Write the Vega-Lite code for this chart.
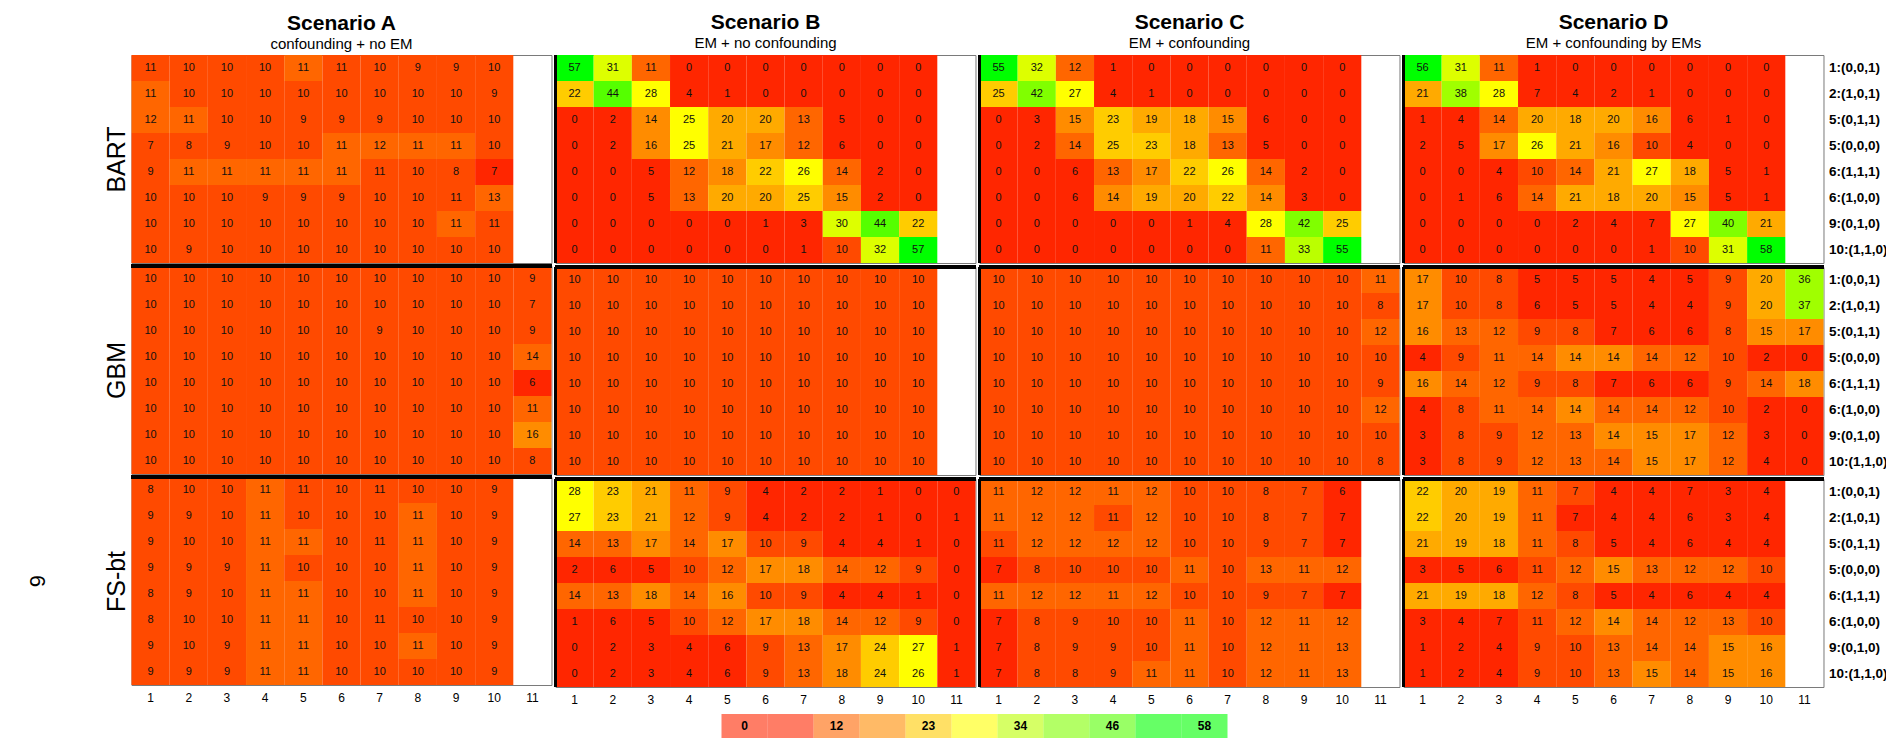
{
"$schema": "https://vega.github.io/schema/vega-lite/v6.json",
"background": "white",
"padding": {"left": 25, "top": 11, "right": 0, "bottom": 0},
"config": {"font": "Liberation Sans", "view": {"stroke": "#7a7a7a", "strokeWidth": 1}, "concat": {"spacing": 0},
  "axis": {"ticks": false, "domain": false, "labelColor": "black", "titleColor": "black"},
  "title": {"fontSize": 21, "fontWeight": "bold", "subtitleFontSize": 15, "subtitlePadding": 0, "offset": 3, "color": "black", "subtitleColor": "black", "anchor": "middle", "frame": "group"}},
"datasets": {
"cells": [
{"s":"A","m":"BART","r":1,"c":1,"v":10.6},{"s":"A","m":"BART","r":1,"c":2,"v":10},{"s":"A","m":"BART","r":1,"c":3,"v":10},{"s":"A","m":"BART","r":1,"c":4,"v":10},{"s":"A","m":"BART","r":1,"c":5,"v":11},{"s":"A","m":"BART","r":1,"c":6,"v":10.6},{"s":"A","m":"BART","r":1,"c":7,"v":10},{"s":"A","m":"BART","r":1,"c":8,"v":9},{"s":"A","m":"BART","r":1,"c":9,"v":9},{"s":"A","m":"BART","r":1,"c":10,"v":10},
{"s":"A","m":"BART","r":2,"c":1,"v":11},{"s":"A","m":"BART","r":2,"c":2,"v":10},{"s":"A","m":"BART","r":2,"c":3,"v":10},{"s":"A","m":"BART","r":2,"c":4,"v":10},{"s":"A","m":"BART","r":2,"c":5,"v":10},{"s":"A","m":"BART","r":2,"c":6,"v":10},{"s":"A","m":"BART","r":2,"c":7,"v":10},{"s":"A","m":"BART","r":2,"c":8,"v":10},{"s":"A","m":"BART","r":2,"c":9,"v":10},{"s":"A","m":"BART","r":2,"c":10,"v":9},
{"s":"A","m":"BART","r":3,"c":1,"v":12},{"s":"A","m":"BART","r":3,"c":2,"v":11},{"s":"A","m":"BART","r":3,"c":3,"v":10},{"s":"A","m":"BART","r":3,"c":4,"v":10},{"s":"A","m":"BART","r":3,"c":5,"v":9},{"s":"A","m":"BART","r":3,"c":6,"v":9},{"s":"A","m":"BART","r":3,"c":7,"v":9},{"s":"A","m":"BART","r":3,"c":8,"v":10},{"s":"A","m":"BART","r":3,"c":9,"v":10},{"s":"A","m":"BART","r":3,"c":10,"v":10},
{"s":"A","m":"BART","r":4,"c":1,"v":7.4},{"s":"A","m":"BART","r":4,"c":2,"v":8},{"s":"A","m":"BART","r":4,"c":3,"v":9},{"s":"A","m":"BART","r":4,"c":4,"v":10},{"s":"A","m":"BART","r":4,"c":5,"v":10},{"s":"A","m":"BART","r":4,"c":6,"v":11},{"s":"A","m":"BART","r":4,"c":7,"v":12},{"s":"A","m":"BART","r":4,"c":8,"v":11},{"s":"A","m":"BART","r":4,"c":9,"v":11},{"s":"A","m":"BART","r":4,"c":10,"v":10},
{"s":"A","m":"BART","r":5,"c":1,"v":9},{"s":"A","m":"BART","r":5,"c":2,"v":11},{"s":"A","m":"BART","r":5,"c":3,"v":11},{"s":"A","m":"BART","r":5,"c":4,"v":11},{"s":"A","m":"BART","r":5,"c":5,"v":11},{"s":"A","m":"BART","r":5,"c":6,"v":11},{"s":"A","m":"BART","r":5,"c":7,"v":10.6},{"s":"A","m":"BART","r":5,"c":8,"v":10},{"s":"A","m":"BART","r":5,"c":9,"v":8},{"s":"A","m":"BART","r":5,"c":10,"v":7},
{"s":"A","m":"BART","r":6,"c":1,"v":10},{"s":"A","m":"BART","r":6,"c":2,"v":10},{"s":"A","m":"BART","r":6,"c":3,"v":10},{"s":"A","m":"BART","r":6,"c":4,"v":9},{"s":"A","m":"BART","r":6,"c":5,"v":9},{"s":"A","m":"BART","r":6,"c":6,"v":9},{"s":"A","m":"BART","r":6,"c":7,"v":10},{"s":"A","m":"BART","r":6,"c":8,"v":10},{"s":"A","m":"BART","r":6,"c":9,"v":10.6},{"s":"A","m":"BART","r":6,"c":10,"v":13},
{"s":"A","m":"BART","r":7,"c":1,"v":10},{"s":"A","m":"BART","r":7,"c":2,"v":10},{"s":"A","m":"BART","r":7,"c":3,"v":10},{"s":"A","m":"BART","r":7,"c":4,"v":10},{"s":"A","m":"BART","r":7,"c":5,"v":10},{"s":"A","m":"BART","r":7,"c":6,"v":10},{"s":"A","m":"BART","r":7,"c":7,"v":10},{"s":"A","m":"BART","r":7,"c":8,"v":10},{"s":"A","m":"BART","r":7,"c":9,"v":11},{"s":"A","m":"BART","r":7,"c":10,"v":10.6},
{"s":"A","m":"BART","r":8,"c":1,"v":10},{"s":"A","m":"BART","r":8,"c":2,"v":9},{"s":"A","m":"BART","r":8,"c":3,"v":10},{"s":"A","m":"BART","r":8,"c":4,"v":10},{"s":"A","m":"BART","r":8,"c":5,"v":10},{"s":"A","m":"BART","r":8,"c":6,"v":10},{"s":"A","m":"BART","r":8,"c":7,"v":10},{"s":"A","m":"BART","r":8,"c":8,"v":10},{"s":"A","m":"BART","r":8,"c":9,"v":10},{"s":"A","m":"BART","r":8,"c":10,"v":10},
{"s":"A","m":"GBM","r":1,"c":1,"v":10},{"s":"A","m":"GBM","r":1,"c":2,"v":10},{"s":"A","m":"GBM","r":1,"c":3,"v":10},{"s":"A","m":"GBM","r":1,"c":4,"v":10},{"s":"A","m":"GBM","r":1,"c":5,"v":10},{"s":"A","m":"GBM","r":1,"c":6,"v":10},{"s":"A","m":"GBM","r":1,"c":7,"v":10},{"s":"A","m":"GBM","r":1,"c":8,"v":10},{"s":"A","m":"GBM","r":1,"c":9,"v":10},{"s":"A","m":"GBM","r":1,"c":10,"v":10},{"s":"A","m":"GBM","r":1,"c":11,"v":9},
{"s":"A","m":"GBM","r":2,"c":1,"v":10},{"s":"A","m":"GBM","r":2,"c":2,"v":10},{"s":"A","m":"GBM","r":2,"c":3,"v":10},{"s":"A","m":"GBM","r":2,"c":4,"v":10},{"s":"A","m":"GBM","r":2,"c":5,"v":10},{"s":"A","m":"GBM","r":2,"c":6,"v":10},{"s":"A","m":"GBM","r":2,"c":7,"v":10},{"s":"A","m":"GBM","r":2,"c":8,"v":10},{"s":"A","m":"GBM","r":2,"c":9,"v":10},{"s":"A","m":"GBM","r":2,"c":10,"v":10},{"s":"A","m":"GBM","r":2,"c":11,"v":7.4},
{"s":"A","m":"GBM","r":3,"c":1,"v":10},{"s":"A","m":"GBM","r":3,"c":2,"v":10},{"s":"A","m":"GBM","r":3,"c":3,"v":10},{"s":"A","m":"GBM","r":3,"c":4,"v":10},{"s":"A","m":"GBM","r":3,"c":5,"v":10},{"s":"A","m":"GBM","r":3,"c":6,"v":10},{"s":"A","m":"GBM","r":3,"c":7,"v":9},{"s":"A","m":"GBM","r":3,"c":8,"v":10},{"s":"A","m":"GBM","r":3,"c":9,"v":10},{"s":"A","m":"GBM","r":3,"c":10,"v":10},{"s":"A","m":"GBM","r":3,"c":11,"v":9},
{"s":"A","m":"GBM","r":4,"c":1,"v":10},{"s":"A","m":"GBM","r":4,"c":2,"v":10},{"s":"A","m":"GBM","r":4,"c":3,"v":10},{"s":"A","m":"GBM","r":4,"c":4,"v":10},{"s":"A","m":"GBM","r":4,"c":5,"v":10},{"s":"A","m":"GBM","r":4,"c":6,"v":10},{"s":"A","m":"GBM","r":4,"c":7,"v":10},{"s":"A","m":"GBM","r":4,"c":8,"v":10},{"s":"A","m":"GBM","r":4,"c":9,"v":10},{"s":"A","m":"GBM","r":4,"c":10,"v":10},{"s":"A","m":"GBM","r":4,"c":11,"v":14},
{"s":"A","m":"GBM","r":5,"c":1,"v":10},{"s":"A","m":"GBM","r":5,"c":2,"v":10},{"s":"A","m":"GBM","r":5,"c":3,"v":10},{"s":"A","m":"GBM","r":5,"c":4,"v":10},{"s":"A","m":"GBM","r":5,"c":5,"v":10},{"s":"A","m":"GBM","r":5,"c":6,"v":10},{"s":"A","m":"GBM","r":5,"c":7,"v":10},{"s":"A","m":"GBM","r":5,"c":8,"v":10},{"s":"A","m":"GBM","r":5,"c":9,"v":10},{"s":"A","m":"GBM","r":5,"c":10,"v":10},{"s":"A","m":"GBM","r":5,"c":11,"v":6},
{"s":"A","m":"GBM","r":6,"c":1,"v":10},{"s":"A","m":"GBM","r":6,"c":2,"v":10},{"s":"A","m":"GBM","r":6,"c":3,"v":10},{"s":"A","m":"GBM","r":6,"c":4,"v":10},{"s":"A","m":"GBM","r":6,"c":5,"v":10},{"s":"A","m":"GBM","r":6,"c":6,"v":10},{"s":"A","m":"GBM","r":6,"c":7,"v":10},{"s":"A","m":"GBM","r":6,"c":8,"v":10},{"s":"A","m":"GBM","r":6,"c":9,"v":10},{"s":"A","m":"GBM","r":6,"c":10,"v":10},{"s":"A","m":"GBM","r":6,"c":11,"v":11},
{"s":"A","m":"GBM","r":7,"c":1,"v":10},{"s":"A","m":"GBM","r":7,"c":2,"v":10},{"s":"A","m":"GBM","r":7,"c":3,"v":10},{"s":"A","m":"GBM","r":7,"c":4,"v":10},{"s":"A","m":"GBM","r":7,"c":5,"v":10},{"s":"A","m":"GBM","r":7,"c":6,"v":10},{"s":"A","m":"GBM","r":7,"c":7,"v":10},{"s":"A","m":"GBM","r":7,"c":8,"v":10},{"s":"A","m":"GBM","r":7,"c":9,"v":10},{"s":"A","m":"GBM","r":7,"c":10,"v":10},{"s":"A","m":"GBM","r":7,"c":11,"v":16},
{"s":"A","m":"GBM","r":8,"c":1,"v":10},{"s":"A","m":"GBM","r":8,"c":2,"v":10},{"s":"A","m":"GBM","r":8,"c":3,"v":10},{"s":"A","m":"GBM","r":8,"c":4,"v":10},{"s":"A","m":"GBM","r":8,"c":5,"v":10},{"s":"A","m":"GBM","r":8,"c":6,"v":10},{"s":"A","m":"GBM","r":8,"c":7,"v":10},{"s":"A","m":"GBM","r":8,"c":8,"v":10},{"s":"A","m":"GBM","r":8,"c":9,"v":10},{"s":"A","m":"GBM","r":8,"c":10,"v":10},{"s":"A","m":"GBM","r":8,"c":11,"v":8},
{"s":"A","m":"FS-bt","r":1,"c":1,"v":8},{"s":"A","m":"FS-bt","r":1,"c":2,"v":10},{"s":"A","m":"FS-bt","r":1,"c":3,"v":10},{"s":"A","m":"FS-bt","r":1,"c":4,"v":11},{"s":"A","m":"FS-bt","r":1,"c":5,"v":10.6},{"s":"A","m":"FS-bt","r":1,"c":6,"v":10},{"s":"A","m":"FS-bt","r":1,"c":7,"v":10.6},{"s":"A","m":"FS-bt","r":1,"c":8,"v":10},{"s":"A","m":"FS-bt","r":1,"c":9,"v":10},{"s":"A","m":"FS-bt","r":1,"c":10,"v":9},
{"s":"A","m":"FS-bt","r":2,"c":1,"v":9},{"s":"A","m":"FS-bt","r":2,"c":2,"v":9},{"s":"A","m":"FS-bt","r":2,"c":3,"v":10},{"s":"A","m":"FS-bt","r":2,"c":4,"v":11},{"s":"A","m":"FS-bt","r":2,"c":5,"v":10},{"s":"A","m":"FS-bt","r":2,"c":6,"v":10},{"s":"A","m":"FS-bt","r":2,"c":7,"v":10},{"s":"A","m":"FS-bt","r":2,"c":8,"v":11},{"s":"A","m":"FS-bt","r":2,"c":9,"v":10},{"s":"A","m":"FS-bt","r":2,"c":10,"v":9},
{"s":"A","m":"FS-bt","r":3,"c":1,"v":9},{"s":"A","m":"FS-bt","r":3,"c":2,"v":10},{"s":"A","m":"FS-bt","r":3,"c":3,"v":10},{"s":"A","m":"FS-bt","r":3,"c":4,"v":11},{"s":"A","m":"FS-bt","r":3,"c":5,"v":11},{"s":"A","m":"FS-bt","r":3,"c":6,"v":10},{"s":"A","m":"FS-bt","r":3,"c":7,"v":10.6},{"s":"A","m":"FS-bt","r":3,"c":8,"v":11},{"s":"A","m":"FS-bt","r":3,"c":9,"v":10},{"s":"A","m":"FS-bt","r":3,"c":10,"v":9},
{"s":"A","m":"FS-bt","r":4,"c":1,"v":9},{"s":"A","m":"FS-bt","r":4,"c":2,"v":9},{"s":"A","m":"FS-bt","r":4,"c":3,"v":9},{"s":"A","m":"FS-bt","r":4,"c":4,"v":11},{"s":"A","m":"FS-bt","r":4,"c":5,"v":10},{"s":"A","m":"FS-bt","r":4,"c":6,"v":10},{"s":"A","m":"FS-bt","r":4,"c":7,"v":10},{"s":"A","m":"FS-bt","r":4,"c":8,"v":11},{"s":"A","m":"FS-bt","r":4,"c":9,"v":10},{"s":"A","m":"FS-bt","r":4,"c":10,"v":9},
{"s":"A","m":"FS-bt","r":5,"c":1,"v":8},{"s":"A","m":"FS-bt","r":5,"c":2,"v":9},{"s":"A","m":"FS-bt","r":5,"c":3,"v":10},{"s":"A","m":"FS-bt","r":5,"c":4,"v":11},{"s":"A","m":"FS-bt","r":5,"c":5,"v":11},{"s":"A","m":"FS-bt","r":5,"c":6,"v":10},{"s":"A","m":"FS-bt","r":5,"c":7,"v":10},{"s":"A","m":"FS-bt","r":5,"c":8,"v":11},{"s":"A","m":"FS-bt","r":5,"c":9,"v":10},{"s":"A","m":"FS-bt","r":5,"c":10,"v":9},
{"s":"A","m":"FS-bt","r":6,"c":1,"v":8},{"s":"A","m":"FS-bt","r":6,"c":2,"v":10},{"s":"A","m":"FS-bt","r":6,"c":3,"v":10},{"s":"A","m":"FS-bt","r":6,"c":4,"v":11},{"s":"A","m":"FS-bt","r":6,"c":5,"v":11},{"s":"A","m":"FS-bt","r":6,"c":6,"v":10},{"s":"A","m":"FS-bt","r":6,"c":7,"v":10.6},{"s":"A","m":"FS-bt","r":6,"c":8,"v":10},{"s":"A","m":"FS-bt","r":6,"c":9,"v":10},{"s":"A","m":"FS-bt","r":6,"c":10,"v":9},
{"s":"A","m":"FS-bt","r":7,"c":1,"v":9},{"s":"A","m":"FS-bt","r":7,"c":2,"v":10},{"s":"A","m":"FS-bt","r":7,"c":3,"v":9},{"s":"A","m":"FS-bt","r":7,"c":4,"v":11},{"s":"A","m":"FS-bt","r":7,"c":5,"v":11},{"s":"A","m":"FS-bt","r":7,"c":6,"v":10},{"s":"A","m":"FS-bt","r":7,"c":7,"v":10},{"s":"A","m":"FS-bt","r":7,"c":8,"v":11},{"s":"A","m":"FS-bt","r":7,"c":9,"v":10},{"s":"A","m":"FS-bt","r":7,"c":10,"v":9},
{"s":"A","m":"FS-bt","r":8,"c":1,"v":9},{"s":"A","m":"FS-bt","r":8,"c":2,"v":9},{"s":"A","m":"FS-bt","r":8,"c":3,"v":9},{"s":"A","m":"FS-bt","r":8,"c":4,"v":11},{"s":"A","m":"FS-bt","r":8,"c":5,"v":11},{"s":"A","m":"FS-bt","r":8,"c":6,"v":10},{"s":"A","m":"FS-bt","r":8,"c":7,"v":10},{"s":"A","m":"FS-bt","r":8,"c":8,"v":10},{"s":"A","m":"FS-bt","r":8,"c":9,"v":10},{"s":"A","m":"FS-bt","r":8,"c":10,"v":9},
{"s":"B","m":"BART","r":1,"c":1,"v":57},{"s":"B","m":"BART","r":1,"c":2,"v":31},{"s":"B","m":"BART","r":1,"c":3,"v":11},{"s":"B","m":"BART","r":1,"c":4,"v":0},{"s":"B","m":"BART","r":1,"c":5,"v":0},{"s":"B","m":"BART","r":1,"c":6,"v":0},{"s":"B","m":"BART","r":1,"c":7,"v":0},{"s":"B","m":"BART","r":1,"c":8,"v":0},{"s":"B","m":"BART","r":1,"c":9,"v":0},{"s":"B","m":"BART","r":1,"c":10,"v":0},
{"s":"B","m":"BART","r":2,"c":1,"v":22},{"s":"B","m":"BART","r":2,"c":2,"v":44},{"s":"B","m":"BART","r":2,"c":3,"v":28},{"s":"B","m":"BART","r":2,"c":4,"v":4},{"s":"B","m":"BART","r":2,"c":5,"v":1},{"s":"B","m":"BART","r":2,"c":6,"v":0},{"s":"B","m":"BART","r":2,"c":7,"v":0},{"s":"B","m":"BART","r":2,"c":8,"v":0},{"s":"B","m":"BART","r":2,"c":9,"v":0},{"s":"B","m":"BART","r":2,"c":10,"v":0},
{"s":"B","m":"BART","r":3,"c":1,"v":0},{"s":"B","m":"BART","r":3,"c":2,"v":2},{"s":"B","m":"BART","r":3,"c":3,"v":14.4},{"s":"B","m":"BART","r":3,"c":4,"v":25.4},{"s":"B","m":"BART","r":3,"c":5,"v":20},{"s":"B","m":"BART","r":3,"c":6,"v":20},{"s":"B","m":"BART","r":3,"c":7,"v":13},{"s":"B","m":"BART","r":3,"c":8,"v":5},{"s":"B","m":"BART","r":3,"c":9,"v":0},{"s":"B","m":"BART","r":3,"c":10,"v":0},
{"s":"B","m":"BART","r":4,"c":1,"v":0},{"s":"B","m":"BART","r":4,"c":2,"v":2},{"s":"B","m":"BART","r":4,"c":3,"v":16},{"s":"B","m":"BART","r":4,"c":4,"v":25.4},{"s":"B","m":"BART","r":4,"c":5,"v":21},{"s":"B","m":"BART","r":4,"c":6,"v":17},{"s":"B","m":"BART","r":4,"c":7,"v":12},{"s":"B","m":"BART","r":4,"c":8,"v":6},{"s":"B","m":"BART","r":4,"c":9,"v":0},{"s":"B","m":"BART","r":4,"c":10,"v":0},
{"s":"B","m":"BART","r":5,"c":1,"v":0},{"s":"B","m":"BART","r":5,"c":2,"v":0},{"s":"B","m":"BART","r":5,"c":3,"v":5},{"s":"B","m":"BART","r":5,"c":4,"v":12},{"s":"B","m":"BART","r":5,"c":5,"v":17.6},{"s":"B","m":"BART","r":5,"c":6,"v":22},{"s":"B","m":"BART","r":5,"c":7,"v":26},{"s":"B","m":"BART","r":5,"c":8,"v":14},{"s":"B","m":"BART","r":5,"c":9,"v":2},{"s":"B","m":"BART","r":5,"c":10,"v":0},
{"s":"B","m":"BART","r":6,"c":1,"v":0},{"s":"B","m":"BART","r":6,"c":2,"v":0},{"s":"B","m":"BART","r":6,"c":3,"v":5},{"s":"B","m":"BART","r":6,"c":4,"v":13},{"s":"B","m":"BART","r":6,"c":5,"v":20},{"s":"B","m":"BART","r":6,"c":6,"v":20},{"s":"B","m":"BART","r":6,"c":7,"v":25},{"s":"B","m":"BART","r":6,"c":8,"v":15},{"s":"B","m":"BART","r":6,"c":9,"v":2},{"s":"B","m":"BART","r":6,"c":10,"v":0},
{"s":"B","m":"BART","r":7,"c":1,"v":0},{"s":"B","m":"BART","r":7,"c":2,"v":0},{"s":"B","m":"BART","r":7,"c":3,"v":0},{"s":"B","m":"BART","r":7,"c":4,"v":0},{"s":"B","m":"BART","r":7,"c":5,"v":0},{"s":"B","m":"BART","r":7,"c":6,"v":1},{"s":"B","m":"BART","r":7,"c":7,"v":3},{"s":"B","m":"BART","r":7,"c":8,"v":30},{"s":"B","m":"BART","r":7,"c":9,"v":44},{"s":"B","m":"BART","r":7,"c":10,"v":22},
{"s":"B","m":"BART","r":8,"c":1,"v":0},{"s":"B","m":"BART","r":8,"c":2,"v":0},{"s":"B","m":"BART","r":8,"c":3,"v":0},{"s":"B","m":"BART","r":8,"c":4,"v":0},{"s":"B","m":"BART","r":8,"c":5,"v":0},{"s":"B","m":"BART","r":8,"c":6,"v":0},{"s":"B","m":"BART","r":8,"c":7,"v":1},{"s":"B","m":"BART","r":8,"c":8,"v":10},{"s":"B","m":"BART","r":8,"c":9,"v":32},{"s":"B","m":"BART","r":8,"c":10,"v":57},
{"s":"B","m":"GBM","r":1,"c":1,"v":10},{"s":"B","m":"GBM","r":1,"c":2,"v":10},{"s":"B","m":"GBM","r":1,"c":3,"v":10},{"s":"B","m":"GBM","r":1,"c":4,"v":10},{"s":"B","m":"GBM","r":1,"c":5,"v":10},{"s":"B","m":"GBM","r":1,"c":6,"v":10},{"s":"B","m":"GBM","r":1,"c":7,"v":10},{"s":"B","m":"GBM","r":1,"c":8,"v":10},{"s":"B","m":"GBM","r":1,"c":9,"v":10},{"s":"B","m":"GBM","r":1,"c":10,"v":10},
{"s":"B","m":"GBM","r":2,"c":1,"v":10},{"s":"B","m":"GBM","r":2,"c":2,"v":10},{"s":"B","m":"GBM","r":2,"c":3,"v":10},{"s":"B","m":"GBM","r":2,"c":4,"v":10},{"s":"B","m":"GBM","r":2,"c":5,"v":10},{"s":"B","m":"GBM","r":2,"c":6,"v":10},{"s":"B","m":"GBM","r":2,"c":7,"v":10},{"s":"B","m":"GBM","r":2,"c":8,"v":10},{"s":"B","m":"GBM","r":2,"c":9,"v":10},{"s":"B","m":"GBM","r":2,"c":10,"v":10},
{"s":"B","m":"GBM","r":3,"c":1,"v":10},{"s":"B","m":"GBM","r":3,"c":2,"v":10},{"s":"B","m":"GBM","r":3,"c":3,"v":10},{"s":"B","m":"GBM","r":3,"c":4,"v":10},{"s":"B","m":"GBM","r":3,"c":5,"v":10},{"s":"B","m":"GBM","r":3,"c":6,"v":10},{"s":"B","m":"GBM","r":3,"c":7,"v":10},{"s":"B","m":"GBM","r":3,"c":8,"v":10},{"s":"B","m":"GBM","r":3,"c":9,"v":10},{"s":"B","m":"GBM","r":3,"c":10,"v":10},
{"s":"B","m":"GBM","r":4,"c":1,"v":10},{"s":"B","m":"GBM","r":4,"c":2,"v":10},{"s":"B","m":"GBM","r":4,"c":3,"v":10},{"s":"B","m":"GBM","r":4,"c":4,"v":10},{"s":"B","m":"GBM","r":4,"c":5,"v":10},{"s":"B","m":"GBM","r":4,"c":6,"v":10},{"s":"B","m":"GBM","r":4,"c":7,"v":10},{"s":"B","m":"GBM","r":4,"c":8,"v":10},{"s":"B","m":"GBM","r":4,"c":9,"v":10},{"s":"B","m":"GBM","r":4,"c":10,"v":10},
{"s":"B","m":"GBM","r":5,"c":1,"v":10},{"s":"B","m":"GBM","r":5,"c":2,"v":10},{"s":"B","m":"GBM","r":5,"c":3,"v":10},{"s":"B","m":"GBM","r":5,"c":4,"v":10},{"s":"B","m":"GBM","r":5,"c":5,"v":10},{"s":"B","m":"GBM","r":5,"c":6,"v":10},{"s":"B","m":"GBM","r":5,"c":7,"v":10},{"s":"B","m":"GBM","r":5,"c":8,"v":10},{"s":"B","m":"GBM","r":5,"c":9,"v":10},{"s":"B","m":"GBM","r":5,"c":10,"v":10},
{"s":"B","m":"GBM","r":6,"c":1,"v":10},{"s":"B","m":"GBM","r":6,"c":2,"v":10},{"s":"B","m":"GBM","r":6,"c":3,"v":10},{"s":"B","m":"GBM","r":6,"c":4,"v":10},{"s":"B","m":"GBM","r":6,"c":5,"v":10},{"s":"B","m":"GBM","r":6,"c":6,"v":10},{"s":"B","m":"GBM","r":6,"c":7,"v":10},{"s":"B","m":"GBM","r":6,"c":8,"v":10},{"s":"B","m":"GBM","r":6,"c":9,"v":10},{"s":"B","m":"GBM","r":6,"c":10,"v":10},
{"s":"B","m":"GBM","r":7,"c":1,"v":10},{"s":"B","m":"GBM","r":7,"c":2,"v":10},{"s":"B","m":"GBM","r":7,"c":3,"v":10},{"s":"B","m":"GBM","r":7,"c":4,"v":10},{"s":"B","m":"GBM","r":7,"c":5,"v":10},{"s":"B","m":"GBM","r":7,"c":6,"v":10},{"s":"B","m":"GBM","r":7,"c":7,"v":10},{"s":"B","m":"GBM","r":7,"c":8,"v":10},{"s":"B","m":"GBM","r":7,"c":9,"v":10},{"s":"B","m":"GBM","r":7,"c":10,"v":10},
{"s":"B","m":"GBM","r":8,"c":1,"v":10},{"s":"B","m":"GBM","r":8,"c":2,"v":10},{"s":"B","m":"GBM","r":8,"c":3,"v":10},{"s":"B","m":"GBM","r":8,"c":4,"v":10},{"s":"B","m":"GBM","r":8,"c":5,"v":10},{"s":"B","m":"GBM","r":8,"c":6,"v":10},{"s":"B","m":"GBM","r":8,"c":7,"v":10},{"s":"B","m":"GBM","r":8,"c":8,"v":10},{"s":"B","m":"GBM","r":8,"c":9,"v":10},{"s":"B","m":"GBM","r":8,"c":10,"v":10},
{"s":"B","m":"FS-bt","r":1,"c":1,"v":28},{"s":"B","m":"FS-bt","r":1,"c":2,"v":23},{"s":"B","m":"FS-bt","r":1,"c":3,"v":21},{"s":"B","m":"FS-bt","r":1,"c":4,"v":11},{"s":"B","m":"FS-bt","r":1,"c":5,"v":9},{"s":"B","m":"FS-bt","r":1,"c":6,"v":4},{"s":"B","m":"FS-bt","r":1,"c":7,"v":2},{"s":"B","m":"FS-bt","r":1,"c":8,"v":2},{"s":"B","m":"FS-bt","r":1,"c":9,"v":1},{"s":"B","m":"FS-bt","r":1,"c":10,"v":0},{"s":"B","m":"FS-bt","r":1,"c":11,"v":0},
{"s":"B","m":"FS-bt","r":2,"c":1,"v":27},{"s":"B","m":"FS-bt","r":2,"c":2,"v":23},{"s":"B","m":"FS-bt","r":2,"c":3,"v":21},{"s":"B","m":"FS-bt","r":2,"c":4,"v":12},{"s":"B","m":"FS-bt","r":2,"c":5,"v":9},{"s":"B","m":"FS-bt","r":2,"c":6,"v":4},{"s":"B","m":"FS-bt","r":2,"c":7,"v":2},{"s":"B","m":"FS-bt","r":2,"c":8,"v":2},{"s":"B","m":"FS-bt","r":2,"c":9,"v":1},{"s":"B","m":"FS-bt","r":2,"c":10,"v":0},{"s":"B","m":"FS-bt","r":2,"c":11,"v":1},
{"s":"B","m":"FS-bt","r":3,"c":1,"v":14},{"s":"B","m":"FS-bt","r":3,"c":2,"v":13},{"s":"B","m":"FS-bt","r":3,"c":3,"v":17},{"s":"B","m":"FS-bt","r":3,"c":4,"v":14},{"s":"B","m":"FS-bt","r":3,"c":5,"v":17},{"s":"B","m":"FS-bt","r":3,"c":6,"v":10},{"s":"B","m":"FS-bt","r":3,"c":7,"v":9},{"s":"B","m":"FS-bt","r":3,"c":8,"v":4},{"s":"B","m":"FS-bt","r":3,"c":9,"v":4},{"s":"B","m":"FS-bt","r":3,"c":10,"v":1},{"s":"B","m":"FS-bt","r":3,"c":11,"v":0},
{"s":"B","m":"FS-bt","r":4,"c":1,"v":2},{"s":"B","m":"FS-bt","r":4,"c":2,"v":6},{"s":"B","m":"FS-bt","r":4,"c":3,"v":5},{"s":"B","m":"FS-bt","r":4,"c":4,"v":10},{"s":"B","m":"FS-bt","r":4,"c":5,"v":12},{"s":"B","m":"FS-bt","r":4,"c":6,"v":17},{"s":"B","m":"FS-bt","r":4,"c":7,"v":17.6},{"s":"B","m":"FS-bt","r":4,"c":8,"v":14},{"s":"B","m":"FS-bt","r":4,"c":9,"v":12},{"s":"B","m":"FS-bt","r":4,"c":10,"v":9},{"s":"B","m":"FS-bt","r":4,"c":11,"v":0},
{"s":"B","m":"FS-bt","r":5,"c":1,"v":14},{"s":"B","m":"FS-bt","r":5,"c":2,"v":13},{"s":"B","m":"FS-bt","r":5,"c":3,"v":17.6},{"s":"B","m":"FS-bt","r":5,"c":4,"v":14},{"s":"B","m":"FS-bt","r":5,"c":5,"v":16},{"s":"B","m":"FS-bt","r":5,"c":6,"v":10},{"s":"B","m":"FS-bt","r":5,"c":7,"v":9},{"s":"B","m":"FS-bt","r":5,"c":8,"v":4},{"s":"B","m":"FS-bt","r":5,"c":9,"v":4},{"s":"B","m":"FS-bt","r":5,"c":10,"v":1},{"s":"B","m":"FS-bt","r":5,"c":11,"v":0},
{"s":"B","m":"FS-bt","r":6,"c":1,"v":1},{"s":"B","m":"FS-bt","r":6,"c":2,"v":6},{"s":"B","m":"FS-bt","r":6,"c":3,"v":5},{"s":"B","m":"FS-bt","r":6,"c":4,"v":10},{"s":"B","m":"FS-bt","r":6,"c":5,"v":12},{"s":"B","m":"FS-bt","r":6,"c":6,"v":17},{"s":"B","m":"FS-bt","r":6,"c":7,"v":17.6},{"s":"B","m":"FS-bt","r":6,"c":8,"v":14},{"s":"B","m":"FS-bt","r":6,"c":9,"v":12},{"s":"B","m":"FS-bt","r":6,"c":10,"v":9},{"s":"B","m":"FS-bt","r":6,"c":11,"v":0},
{"s":"B","m":"FS-bt","r":7,"c":1,"v":0},{"s":"B","m":"FS-bt","r":7,"c":2,"v":2},{"s":"B","m":"FS-bt","r":7,"c":3,"v":3},{"s":"B","m":"FS-bt","r":7,"c":4,"v":4},{"s":"B","m":"FS-bt","r":7,"c":5,"v":6},{"s":"B","m":"FS-bt","r":7,"c":6,"v":9},{"s":"B","m":"FS-bt","r":7,"c":7,"v":13},{"s":"B","m":"FS-bt","r":7,"c":8,"v":17},{"s":"B","m":"FS-bt","r":7,"c":9,"v":24},{"s":"B","m":"FS-bt","r":7,"c":10,"v":27},{"s":"B","m":"FS-bt","r":7,"c":11,"v":1},
{"s":"B","m":"FS-bt","r":8,"c":1,"v":0},{"s":"B","m":"FS-bt","r":8,"c":2,"v":2},{"s":"B","m":"FS-bt","r":8,"c":3,"v":3},{"s":"B","m":"FS-bt","r":8,"c":4,"v":4},{"s":"B","m":"FS-bt","r":8,"c":5,"v":6},{"s":"B","m":"FS-bt","r":8,"c":6,"v":9},{"s":"B","m":"FS-bt","r":8,"c":7,"v":13},{"s":"B","m":"FS-bt","r":8,"c":8,"v":17.6},{"s":"B","m":"FS-bt","r":8,"c":9,"v":24},{"s":"B","m":"FS-bt","r":8,"c":10,"v":26},{"s":"B","m":"FS-bt","r":8,"c":11,"v":1},
{"s":"C","m":"BART","r":1,"c":1,"v":55},{"s":"C","m":"BART","r":1,"c":2,"v":32},{"s":"C","m":"BART","r":1,"c":3,"v":12},{"s":"C","m":"BART","r":1,"c":4,"v":1},{"s":"C","m":"BART","r":1,"c":5,"v":0},{"s":"C","m":"BART","r":1,"c":6,"v":0},{"s":"C","m":"BART","r":1,"c":7,"v":0},{"s":"C","m":"BART","r":1,"c":8,"v":0},{"s":"C","m":"BART","r":1,"c":9,"v":0},{"s":"C","m":"BART","r":1,"c":10,"v":0},
{"s":"C","m":"BART","r":2,"c":1,"v":25},{"s":"C","m":"BART","r":2,"c":2,"v":42},{"s":"C","m":"BART","r":2,"c":3,"v":27},{"s":"C","m":"BART","r":2,"c":4,"v":4},{"s":"C","m":"BART","r":2,"c":5,"v":1},{"s":"C","m":"BART","r":2,"c":6,"v":0},{"s":"C","m":"BART","r":2,"c":7,"v":0},{"s":"C","m":"BART","r":2,"c":8,"v":0},{"s":"C","m":"BART","r":2,"c":9,"v":0},{"s":"C","m":"BART","r":2,"c":10,"v":0},
{"s":"C","m":"BART","r":3,"c":1,"v":0},{"s":"C","m":"BART","r":3,"c":2,"v":3},{"s":"C","m":"BART","r":3,"c":3,"v":15},{"s":"C","m":"BART","r":3,"c":4,"v":23},{"s":"C","m":"BART","r":3,"c":5,"v":19},{"s":"C","m":"BART","r":3,"c":6,"v":18},{"s":"C","m":"BART","r":3,"c":7,"v":15},{"s":"C","m":"BART","r":3,"c":8,"v":6},{"s":"C","m":"BART","r":3,"c":9,"v":0},{"s":"C","m":"BART","r":3,"c":10,"v":0},
{"s":"C","m":"BART","r":4,"c":1,"v":0},{"s":"C","m":"BART","r":4,"c":2,"v":2},{"s":"C","m":"BART","r":4,"c":3,"v":14},{"s":"C","m":"BART","r":4,"c":4,"v":25},{"s":"C","m":"BART","r":4,"c":5,"v":23},{"s":"C","m":"BART","r":4,"c":6,"v":18},{"s":"C","m":"BART","r":4,"c":7,"v":13},{"s":"C","m":"BART","r":4,"c":8,"v":5},{"s":"C","m":"BART","r":4,"c":9,"v":0},{"s":"C","m":"BART","r":4,"c":10,"v":0},
{"s":"C","m":"BART","r":5,"c":1,"v":0},{"s":"C","m":"BART","r":5,"c":2,"v":0},{"s":"C","m":"BART","r":5,"c":3,"v":6},{"s":"C","m":"BART","r":5,"c":4,"v":13},{"s":"C","m":"BART","r":5,"c":5,"v":17},{"s":"C","m":"BART","r":5,"c":6,"v":22},{"s":"C","m":"BART","r":5,"c":7,"v":26},{"s":"C","m":"BART","r":5,"c":8,"v":14},{"s":"C","m":"BART","r":5,"c":9,"v":2},{"s":"C","m":"BART","r":5,"c":10,"v":0},
{"s":"C","m":"BART","r":6,"c":1,"v":0},{"s":"C","m":"BART","r":6,"c":2,"v":0},{"s":"C","m":"BART","r":6,"c":3,"v":6},{"s":"C","m":"BART","r":6,"c":4,"v":14.4},{"s":"C","m":"BART","r":6,"c":5,"v":19},{"s":"C","m":"BART","r":6,"c":6,"v":20},{"s":"C","m":"BART","r":6,"c":7,"v":22},{"s":"C","m":"BART","r":6,"c":8,"v":14.4},{"s":"C","m":"BART","r":6,"c":9,"v":3},{"s":"C","m":"BART","r":6,"c":10,"v":0},
{"s":"C","m":"BART","r":7,"c":1,"v":0},{"s":"C","m":"BART","r":7,"c":2,"v":0},{"s":"C","m":"BART","r":7,"c":3,"v":0},{"s":"C","m":"BART","r":7,"c":4,"v":0},{"s":"C","m":"BART","r":7,"c":5,"v":0},{"s":"C","m":"BART","r":7,"c":6,"v":1},{"s":"C","m":"BART","r":7,"c":7,"v":4},{"s":"C","m":"BART","r":7,"c":8,"v":28},{"s":"C","m":"BART","r":7,"c":9,"v":42},{"s":"C","m":"BART","r":7,"c":10,"v":25},
{"s":"C","m":"BART","r":8,"c":1,"v":0},{"s":"C","m":"BART","r":8,"c":2,"v":0},{"s":"C","m":"BART","r":8,"c":3,"v":0},{"s":"C","m":"BART","r":8,"c":4,"v":0},{"s":"C","m":"BART","r":8,"c":5,"v":0},{"s":"C","m":"BART","r":8,"c":6,"v":0},{"s":"C","m":"BART","r":8,"c":7,"v":0},{"s":"C","m":"BART","r":8,"c":8,"v":11},{"s":"C","m":"BART","r":8,"c":9,"v":33},{"s":"C","m":"BART","r":8,"c":10,"v":55},
{"s":"C","m":"GBM","r":1,"c":1,"v":10},{"s":"C","m":"GBM","r":1,"c":2,"v":10},{"s":"C","m":"GBM","r":1,"c":3,"v":10},{"s":"C","m":"GBM","r":1,"c":4,"v":10},{"s":"C","m":"GBM","r":1,"c":5,"v":10},{"s":"C","m":"GBM","r":1,"c":6,"v":10},{"s":"C","m":"GBM","r":1,"c":7,"v":10},{"s":"C","m":"GBM","r":1,"c":8,"v":10},{"s":"C","m":"GBM","r":1,"c":9,"v":10},{"s":"C","m":"GBM","r":1,"c":10,"v":10},{"s":"C","m":"GBM","r":1,"c":11,"v":11},
{"s":"C","m":"GBM","r":2,"c":1,"v":10},{"s":"C","m":"GBM","r":2,"c":2,"v":10},{"s":"C","m":"GBM","r":2,"c":3,"v":10},{"s":"C","m":"GBM","r":2,"c":4,"v":10},{"s":"C","m":"GBM","r":2,"c":5,"v":10},{"s":"C","m":"GBM","r":2,"c":6,"v":10},{"s":"C","m":"GBM","r":2,"c":7,"v":10},{"s":"C","m":"GBM","r":2,"c":8,"v":10},{"s":"C","m":"GBM","r":2,"c":9,"v":10},{"s":"C","m":"GBM","r":2,"c":10,"v":10},{"s":"C","m":"GBM","r":2,"c":11,"v":8},
{"s":"C","m":"GBM","r":3,"c":1,"v":10},{"s":"C","m":"GBM","r":3,"c":2,"v":10},{"s":"C","m":"GBM","r":3,"c":3,"v":10},{"s":"C","m":"GBM","r":3,"c":4,"v":10},{"s":"C","m":"GBM","r":3,"c":5,"v":10},{"s":"C","m":"GBM","r":3,"c":6,"v":10},{"s":"C","m":"GBM","r":3,"c":7,"v":10},{"s":"C","m":"GBM","r":3,"c":8,"v":10},{"s":"C","m":"GBM","r":3,"c":9,"v":10},{"s":"C","m":"GBM","r":3,"c":10,"v":10},{"s":"C","m":"GBM","r":3,"c":11,"v":12},
{"s":"C","m":"GBM","r":4,"c":1,"v":10},{"s":"C","m":"GBM","r":4,"c":2,"v":10},{"s":"C","m":"GBM","r":4,"c":3,"v":10},{"s":"C","m":"GBM","r":4,"c":4,"v":10},{"s":"C","m":"GBM","r":4,"c":5,"v":10},{"s":"C","m":"GBM","r":4,"c":6,"v":10},{"s":"C","m":"GBM","r":4,"c":7,"v":10},{"s":"C","m":"GBM","r":4,"c":8,"v":10},{"s":"C","m":"GBM","r":4,"c":9,"v":10},{"s":"C","m":"GBM","r":4,"c":10,"v":10},{"s":"C","m":"GBM","r":4,"c":11,"v":10},
{"s":"C","m":"GBM","r":5,"c":1,"v":10},{"s":"C","m":"GBM","r":5,"c":2,"v":10},{"s":"C","m":"GBM","r":5,"c":3,"v":10},{"s":"C","m":"GBM","r":5,"c":4,"v":10},{"s":"C","m":"GBM","r":5,"c":5,"v":10},{"s":"C","m":"GBM","r":5,"c":6,"v":10},{"s":"C","m":"GBM","r":5,"c":7,"v":10},{"s":"C","m":"GBM","r":5,"c":8,"v":10},{"s":"C","m":"GBM","r":5,"c":9,"v":10},{"s":"C","m":"GBM","r":5,"c":10,"v":10},{"s":"C","m":"GBM","r":5,"c":11,"v":9},
{"s":"C","m":"GBM","r":6,"c":1,"v":10},{"s":"C","m":"GBM","r":6,"c":2,"v":10},{"s":"C","m":"GBM","r":6,"c":3,"v":10},{"s":"C","m":"GBM","r":6,"c":4,"v":10},{"s":"C","m":"GBM","r":6,"c":5,"v":10},{"s":"C","m":"GBM","r":6,"c":6,"v":10},{"s":"C","m":"GBM","r":6,"c":7,"v":10},{"s":"C","m":"GBM","r":6,"c":8,"v":10},{"s":"C","m":"GBM","r":6,"c":9,"v":10},{"s":"C","m":"GBM","r":6,"c":10,"v":10},{"s":"C","m":"GBM","r":6,"c":11,"v":12},
{"s":"C","m":"GBM","r":7,"c":1,"v":10},{"s":"C","m":"GBM","r":7,"c":2,"v":10},{"s":"C","m":"GBM","r":7,"c":3,"v":10},{"s":"C","m":"GBM","r":7,"c":4,"v":10},{"s":"C","m":"GBM","r":7,"c":5,"v":10},{"s":"C","m":"GBM","r":7,"c":6,"v":10},{"s":"C","m":"GBM","r":7,"c":7,"v":10},{"s":"C","m":"GBM","r":7,"c":8,"v":10},{"s":"C","m":"GBM","r":7,"c":9,"v":10},{"s":"C","m":"GBM","r":7,"c":10,"v":10},{"s":"C","m":"GBM","r":7,"c":11,"v":10},
{"s":"C","m":"GBM","r":8,"c":1,"v":10},{"s":"C","m":"GBM","r":8,"c":2,"v":10},{"s":"C","m":"GBM","r":8,"c":3,"v":10},{"s":"C","m":"GBM","r":8,"c":4,"v":10},{"s":"C","m":"GBM","r":8,"c":5,"v":10},{"s":"C","m":"GBM","r":8,"c":6,"v":10},{"s":"C","m":"GBM","r":8,"c":7,"v":10},{"s":"C","m":"GBM","r":8,"c":8,"v":10},{"s":"C","m":"GBM","r":8,"c":9,"v":10},{"s":"C","m":"GBM","r":8,"c":10,"v":10},{"s":"C","m":"GBM","r":8,"c":11,"v":8},
{"s":"C","m":"FS-bt","r":1,"c":1,"v":11},{"s":"C","m":"FS-bt","r":1,"c":2,"v":12},{"s":"C","m":"FS-bt","r":1,"c":3,"v":12},{"s":"C","m":"FS-bt","r":1,"c":4,"v":11},{"s":"C","m":"FS-bt","r":1,"c":5,"v":12},{"s":"C","m":"FS-bt","r":1,"c":6,"v":10},{"s":"C","m":"FS-bt","r":1,"c":7,"v":10},{"s":"C","m":"FS-bt","r":1,"c":8,"v":8},{"s":"C","m":"FS-bt","r":1,"c":9,"v":7.4},{"s":"C","m":"FS-bt","r":1,"c":10,"v":6},
{"s":"C","m":"FS-bt","r":2,"c":1,"v":11},{"s":"C","m":"FS-bt","r":2,"c":2,"v":12},{"s":"C","m":"FS-bt","r":2,"c":3,"v":12},{"s":"C","m":"FS-bt","r":2,"c":4,"v":10.6},{"s":"C","m":"FS-bt","r":2,"c":5,"v":12},{"s":"C","m":"FS-bt","r":2,"c":6,"v":10},{"s":"C","m":"FS-bt","r":2,"c":7,"v":10},{"s":"C","m":"FS-bt","r":2,"c":8,"v":8},{"s":"C","m":"FS-bt","r":2,"c":9,"v":7.4},{"s":"C","m":"FS-bt","r":2,"c":10,"v":7},
{"s":"C","m":"FS-bt","r":3,"c":1,"v":10.6},{"s":"C","m":"FS-bt","r":3,"c":2,"v":12},{"s":"C","m":"FS-bt","r":3,"c":3,"v":12},{"s":"C","m":"FS-bt","r":3,"c":4,"v":12},{"s":"C","m":"FS-bt","r":3,"c":5,"v":12},{"s":"C","m":"FS-bt","r":3,"c":6,"v":10},{"s":"C","m":"FS-bt","r":3,"c":7,"v":10},{"s":"C","m":"FS-bt","r":3,"c":8,"v":9},{"s":"C","m":"FS-bt","r":3,"c":9,"v":7.4},{"s":"C","m":"FS-bt","r":3,"c":10,"v":7},
{"s":"C","m":"FS-bt","r":4,"c":1,"v":7},{"s":"C","m":"FS-bt","r":4,"c":2,"v":8},{"s":"C","m":"FS-bt","r":4,"c":3,"v":10},{"s":"C","m":"FS-bt","r":4,"c":4,"v":10},{"s":"C","m":"FS-bt","r":4,"c":5,"v":10},{"s":"C","m":"FS-bt","r":4,"c":6,"v":11},{"s":"C","m":"FS-bt","r":4,"c":7,"v":10},{"s":"C","m":"FS-bt","r":4,"c":8,"v":13},{"s":"C","m":"FS-bt","r":4,"c":9,"v":11},{"s":"C","m":"FS-bt","r":4,"c":10,"v":12},
{"s":"C","m":"FS-bt","r":5,"c":1,"v":11},{"s":"C","m":"FS-bt","r":5,"c":2,"v":12},{"s":"C","m":"FS-bt","r":5,"c":3,"v":12},{"s":"C","m":"FS-bt","r":5,"c":4,"v":11},{"s":"C","m":"FS-bt","r":5,"c":5,"v":12},{"s":"C","m":"FS-bt","r":5,"c":6,"v":10},{"s":"C","m":"FS-bt","r":5,"c":7,"v":10},{"s":"C","m":"FS-bt","r":5,"c":8,"v":9},{"s":"C","m":"FS-bt","r":5,"c":9,"v":7.4},{"s":"C","m":"FS-bt","r":5,"c":10,"v":7},
{"s":"C","m":"FS-bt","r":6,"c":1,"v":7},{"s":"C","m":"FS-bt","r":6,"c":2,"v":8},{"s":"C","m":"FS-bt","r":6,"c":3,"v":9},{"s":"C","m":"FS-bt","r":6,"c":4,"v":10},{"s":"C","m":"FS-bt","r":6,"c":5,"v":10},{"s":"C","m":"FS-bt","r":6,"c":6,"v":11},{"s":"C","m":"FS-bt","r":6,"c":7,"v":10},{"s":"C","m":"FS-bt","r":6,"c":8,"v":12},{"s":"C","m":"FS-bt","r":6,"c":9,"v":11},{"s":"C","m":"FS-bt","r":6,"c":10,"v":12},
{"s":"C","m":"FS-bt","r":7,"c":1,"v":7},{"s":"C","m":"FS-bt","r":7,"c":2,"v":8},{"s":"C","m":"FS-bt","r":7,"c":3,"v":9},{"s":"C","m":"FS-bt","r":7,"c":4,"v":9},{"s":"C","m":"FS-bt","r":7,"c":5,"v":10},{"s":"C","m":"FS-bt","r":7,"c":6,"v":11},{"s":"C","m":"FS-bt","r":7,"c":7,"v":10},{"s":"C","m":"FS-bt","r":7,"c":8,"v":12},{"s":"C","m":"FS-bt","r":7,"c":9,"v":11},{"s":"C","m":"FS-bt","r":7,"c":10,"v":13},
{"s":"C","m":"FS-bt","r":8,"c":1,"v":7},{"s":"C","m":"FS-bt","r":8,"c":2,"v":8},{"s":"C","m":"FS-bt","r":8,"c":3,"v":8},{"s":"C","m":"FS-bt","r":8,"c":4,"v":9},{"s":"C","m":"FS-bt","r":8,"c":5,"v":11},{"s":"C","m":"FS-bt","r":8,"c":6,"v":11},{"s":"C","m":"FS-bt","r":8,"c":7,"v":10},{"s":"C","m":"FS-bt","r":8,"c":8,"v":12},{"s":"C","m":"FS-bt","r":8,"c":9,"v":11},{"s":"C","m":"FS-bt","r":8,"c":10,"v":13},
{"s":"D","m":"BART","r":1,"c":1,"v":56},{"s":"D","m":"BART","r":1,"c":2,"v":31},{"s":"D","m":"BART","r":1,"c":3,"v":11},{"s":"D","m":"BART","r":1,"c":4,"v":1},{"s":"D","m":"BART","r":1,"c":5,"v":0},{"s":"D","m":"BART","r":1,"c":6,"v":0},{"s":"D","m":"BART","r":1,"c":7,"v":0},{"s":"D","m":"BART","r":1,"c":8,"v":0},{"s":"D","m":"BART","r":1,"c":9,"v":0},{"s":"D","m":"BART","r":1,"c":10,"v":0},
{"s":"D","m":"BART","r":2,"c":1,"v":21},{"s":"D","m":"BART","r":2,"c":2,"v":38},{"s":"D","m":"BART","r":2,"c":3,"v":28},{"s":"D","m":"BART","r":2,"c":4,"v":7},{"s":"D","m":"BART","r":2,"c":5,"v":4},{"s":"D","m":"BART","r":2,"c":6,"v":2},{"s":"D","m":"BART","r":2,"c":7,"v":1},{"s":"D","m":"BART","r":2,"c":8,"v":0},{"s":"D","m":"BART","r":2,"c":9,"v":0},{"s":"D","m":"BART","r":2,"c":10,"v":0},
{"s":"D","m":"BART","r":3,"c":1,"v":1},{"s":"D","m":"BART","r":3,"c":2,"v":4},{"s":"D","m":"BART","r":3,"c":3,"v":14},{"s":"D","m":"BART","r":3,"c":4,"v":20},{"s":"D","m":"BART","r":3,"c":5,"v":18},{"s":"D","m":"BART","r":3,"c":6,"v":20},{"s":"D","m":"BART","r":3,"c":7,"v":16},{"s":"D","m":"BART","r":3,"c":8,"v":6},{"s":"D","m":"BART","r":3,"c":9,"v":1},{"s":"D","m":"BART","r":3,"c":10,"v":0},
{"s":"D","m":"BART","r":4,"c":1,"v":2},{"s":"D","m":"BART","r":4,"c":2,"v":5},{"s":"D","m":"BART","r":4,"c":3,"v":17},{"s":"D","m":"BART","r":4,"c":4,"v":26},{"s":"D","m":"BART","r":4,"c":5,"v":21},{"s":"D","m":"BART","r":4,"c":6,"v":16},{"s":"D","m":"BART","r":4,"c":7,"v":10},{"s":"D","m":"BART","r":4,"c":8,"v":4},{"s":"D","m":"BART","r":4,"c":9,"v":0},{"s":"D","m":"BART","r":4,"c":10,"v":0},
{"s":"D","m":"BART","r":5,"c":1,"v":0},{"s":"D","m":"BART","r":5,"c":2,"v":0},{"s":"D","m":"BART","r":5,"c":3,"v":4},{"s":"D","m":"BART","r":5,"c":4,"v":10},{"s":"D","m":"BART","r":5,"c":5,"v":14},{"s":"D","m":"BART","r":5,"c":6,"v":21},{"s":"D","m":"BART","r":5,"c":7,"v":27},{"s":"D","m":"BART","r":5,"c":8,"v":18},{"s":"D","m":"BART","r":5,"c":9,"v":5},{"s":"D","m":"BART","r":5,"c":10,"v":1},
{"s":"D","m":"BART","r":6,"c":1,"v":0},{"s":"D","m":"BART","r":6,"c":2,"v":1},{"s":"D","m":"BART","r":6,"c":3,"v":6},{"s":"D","m":"BART","r":6,"c":4,"v":14},{"s":"D","m":"BART","r":6,"c":5,"v":21},{"s":"D","m":"BART","r":6,"c":6,"v":18},{"s":"D","m":"BART","r":6,"c":7,"v":20},{"s":"D","m":"BART","r":6,"c":8,"v":15},{"s":"D","m":"BART","r":6,"c":9,"v":5},{"s":"D","m":"BART","r":6,"c":10,"v":1},
{"s":"D","m":"BART","r":7,"c":1,"v":0},{"s":"D","m":"BART","r":7,"c":2,"v":0},{"s":"D","m":"BART","r":7,"c":3,"v":0},{"s":"D","m":"BART","r":7,"c":4,"v":0},{"s":"D","m":"BART","r":7,"c":5,"v":2},{"s":"D","m":"BART","r":7,"c":6,"v":4},{"s":"D","m":"BART","r":7,"c":7,"v":7},{"s":"D","m":"BART","r":7,"c":8,"v":27},{"s":"D","m":"BART","r":7,"c":9,"v":40},{"s":"D","m":"BART","r":7,"c":10,"v":21},
{"s":"D","m":"BART","r":8,"c":1,"v":0},{"s":"D","m":"BART","r":8,"c":2,"v":0},{"s":"D","m":"BART","r":8,"c":3,"v":0},{"s":"D","m":"BART","r":8,"c":4,"v":0},{"s":"D","m":"BART","r":8,"c":5,"v":0},{"s":"D","m":"BART","r":8,"c":6,"v":0},{"s":"D","m":"BART","r":8,"c":7,"v":1},{"s":"D","m":"BART","r":8,"c":8,"v":10},{"s":"D","m":"BART","r":8,"c":9,"v":31},{"s":"D","m":"BART","r":8,"c":10,"v":58},
{"s":"D","m":"GBM","r":1,"c":1,"v":17},{"s":"D","m":"GBM","r":1,"c":2,"v":10},{"s":"D","m":"GBM","r":1,"c":3,"v":8},{"s":"D","m":"GBM","r":1,"c":4,"v":5},{"s":"D","m":"GBM","r":1,"c":5,"v":5},{"s":"D","m":"GBM","r":1,"c":6,"v":5},{"s":"D","m":"GBM","r":1,"c":7,"v":4},{"s":"D","m":"GBM","r":1,"c":8,"v":5},{"s":"D","m":"GBM","r":1,"c":9,"v":9},{"s":"D","m":"GBM","r":1,"c":10,"v":20},{"s":"D","m":"GBM","r":1,"c":11,"v":36},
{"s":"D","m":"GBM","r":2,"c":1,"v":17},{"s":"D","m":"GBM","r":2,"c":2,"v":10},{"s":"D","m":"GBM","r":2,"c":3,"v":8},{"s":"D","m":"GBM","r":2,"c":4,"v":6},{"s":"D","m":"GBM","r":2,"c":5,"v":5},{"s":"D","m":"GBM","r":2,"c":6,"v":5},{"s":"D","m":"GBM","r":2,"c":7,"v":4},{"s":"D","m":"GBM","r":2,"c":8,"v":4},{"s":"D","m":"GBM","r":2,"c":9,"v":9},{"s":"D","m":"GBM","r":2,"c":10,"v":20},{"s":"D","m":"GBM","r":2,"c":11,"v":37},
{"s":"D","m":"GBM","r":3,"c":1,"v":16},{"s":"D","m":"GBM","r":3,"c":2,"v":13},{"s":"D","m":"GBM","r":3,"c":3,"v":12},{"s":"D","m":"GBM","r":3,"c":4,"v":9},{"s":"D","m":"GBM","r":3,"c":5,"v":8},{"s":"D","m":"GBM","r":3,"c":6,"v":7},{"s":"D","m":"GBM","r":3,"c":7,"v":6},{"s":"D","m":"GBM","r":3,"c":8,"v":6},{"s":"D","m":"GBM","r":3,"c":9,"v":8},{"s":"D","m":"GBM","r":3,"c":10,"v":15},{"s":"D","m":"GBM","r":3,"c":11,"v":17},
{"s":"D","m":"GBM","r":4,"c":1,"v":4},{"s":"D","m":"GBM","r":4,"c":2,"v":9},{"s":"D","m":"GBM","r":4,"c":3,"v":11},{"s":"D","m":"GBM","r":4,"c":4,"v":14},{"s":"D","m":"GBM","r":4,"c":5,"v":14.4},{"s":"D","m":"GBM","r":4,"c":6,"v":14.4},{"s":"D","m":"GBM","r":4,"c":7,"v":14},{"s":"D","m":"GBM","r":4,"c":8,"v":12},{"s":"D","m":"GBM","r":4,"c":9,"v":10},{"s":"D","m":"GBM","r":4,"c":10,"v":2},{"s":"D","m":"GBM","r":4,"c":11,"v":0},
{"s":"D","m":"GBM","r":5,"c":1,"v":16},{"s":"D","m":"GBM","r":5,"c":2,"v":14},{"s":"D","m":"GBM","r":5,"c":3,"v":12},{"s":"D","m":"GBM","r":5,"c":4,"v":9},{"s":"D","m":"GBM","r":5,"c":5,"v":8},{"s":"D","m":"GBM","r":5,"c":6,"v":7},{"s":"D","m":"GBM","r":5,"c":7,"v":6},{"s":"D","m":"GBM","r":5,"c":8,"v":6},{"s":"D","m":"GBM","r":5,"c":9,"v":9},{"s":"D","m":"GBM","r":5,"c":10,"v":14},{"s":"D","m":"GBM","r":5,"c":11,"v":17.6},
{"s":"D","m":"GBM","r":6,"c":1,"v":4},{"s":"D","m":"GBM","r":6,"c":2,"v":8},{"s":"D","m":"GBM","r":6,"c":3,"v":11},{"s":"D","m":"GBM","r":6,"c":4,"v":14},{"s":"D","m":"GBM","r":6,"c":5,"v":14.4},{"s":"D","m":"GBM","r":6,"c":6,"v":14},{"s":"D","m":"GBM","r":6,"c":7,"v":14},{"s":"D","m":"GBM","r":6,"c":8,"v":12},{"s":"D","m":"GBM","r":6,"c":9,"v":10},{"s":"D","m":"GBM","r":6,"c":10,"v":2},{"s":"D","m":"GBM","r":6,"c":11,"v":0},
{"s":"D","m":"GBM","r":7,"c":1,"v":3},{"s":"D","m":"GBM","r":7,"c":2,"v":8},{"s":"D","m":"GBM","r":7,"c":3,"v":9},{"s":"D","m":"GBM","r":7,"c":4,"v":12},{"s":"D","m":"GBM","r":7,"c":5,"v":13},{"s":"D","m":"GBM","r":7,"c":6,"v":14.4},{"s":"D","m":"GBM","r":7,"c":7,"v":15},{"s":"D","m":"GBM","r":7,"c":8,"v":17},{"s":"D","m":"GBM","r":7,"c":9,"v":12},{"s":"D","m":"GBM","r":7,"c":10,"v":3},{"s":"D","m":"GBM","r":7,"c":11,"v":0},
{"s":"D","m":"GBM","r":8,"c":1,"v":3},{"s":"D","m":"GBM","r":8,"c":2,"v":8},{"s":"D","m":"GBM","r":8,"c":3,"v":9},{"s":"D","m":"GBM","r":8,"c":4,"v":12},{"s":"D","m":"GBM","r":8,"c":5,"v":13},{"s":"D","m":"GBM","r":8,"c":6,"v":14},{"s":"D","m":"GBM","r":8,"c":7,"v":15},{"s":"D","m":"GBM","r":8,"c":8,"v":17},{"s":"D","m":"GBM","r":8,"c":9,"v":12},{"s":"D","m":"GBM","r":8,"c":10,"v":4},{"s":"D","m":"GBM","r":8,"c":11,"v":0},
{"s":"D","m":"FS-bt","r":1,"c":1,"v":22},{"s":"D","m":"FS-bt","r":1,"c":2,"v":20},{"s":"D","m":"FS-bt","r":1,"c":3,"v":19},{"s":"D","m":"FS-bt","r":1,"c":4,"v":11},{"s":"D","m":"FS-bt","r":1,"c":5,"v":7.4},{"s":"D","m":"FS-bt","r":1,"c":6,"v":4},{"s":"D","m":"FS-bt","r":1,"c":7,"v":4},{"s":"D","m":"FS-bt","r":1,"c":8,"v":7},{"s":"D","m":"FS-bt","r":1,"c":9,"v":3},{"s":"D","m":"FS-bt","r":1,"c":10,"v":4},
{"s":"D","m":"FS-bt","r":2,"c":1,"v":22},{"s":"D","m":"FS-bt","r":2,"c":2,"v":20},{"s":"D","m":"FS-bt","r":2,"c":3,"v":19},{"s":"D","m":"FS-bt","r":2,"c":4,"v":11},{"s":"D","m":"FS-bt","r":2,"c":5,"v":7},{"s":"D","m":"FS-bt","r":2,"c":6,"v":4},{"s":"D","m":"FS-bt","r":2,"c":7,"v":4},{"s":"D","m":"FS-bt","r":2,"c":8,"v":6},{"s":"D","m":"FS-bt","r":2,"c":9,"v":3},{"s":"D","m":"FS-bt","r":2,"c":10,"v":4},
{"s":"D","m":"FS-bt","r":3,"c":1,"v":21},{"s":"D","m":"FS-bt","r":3,"c":2,"v":19},{"s":"D","m":"FS-bt","r":3,"c":3,"v":18},{"s":"D","m":"FS-bt","r":3,"c":4,"v":11},{"s":"D","m":"FS-bt","r":3,"c":5,"v":8},{"s":"D","m":"FS-bt","r":3,"c":6,"v":5},{"s":"D","m":"FS-bt","r":3,"c":7,"v":4},{"s":"D","m":"FS-bt","r":3,"c":8,"v":6},{"s":"D","m":"FS-bt","r":3,"c":9,"v":4},{"s":"D","m":"FS-bt","r":3,"c":10,"v":4},
{"s":"D","m":"FS-bt","r":4,"c":1,"v":3},{"s":"D","m":"FS-bt","r":4,"c":2,"v":5},{"s":"D","m":"FS-bt","r":4,"c":3,"v":6},{"s":"D","m":"FS-bt","r":4,"c":4,"v":10.6},{"s":"D","m":"FS-bt","r":4,"c":5,"v":12},{"s":"D","m":"FS-bt","r":4,"c":6,"v":15},{"s":"D","m":"FS-bt","r":4,"c":7,"v":13},{"s":"D","m":"FS-bt","r":4,"c":8,"v":12},{"s":"D","m":"FS-bt","r":4,"c":9,"v":12},{"s":"D","m":"FS-bt","r":4,"c":10,"v":10},
{"s":"D","m":"FS-bt","r":5,"c":1,"v":21},{"s":"D","m":"FS-bt","r":5,"c":2,"v":19},{"s":"D","m":"FS-bt","r":5,"c":3,"v":18},{"s":"D","m":"FS-bt","r":5,"c":4,"v":12},{"s":"D","m":"FS-bt","r":5,"c":5,"v":8},{"s":"D","m":"FS-bt","r":5,"c":6,"v":5},{"s":"D","m":"FS-bt","r":5,"c":7,"v":4},{"s":"D","m":"FS-bt","r":5,"c":8,"v":6},{"s":"D","m":"FS-bt","r":5,"c":9,"v":4},{"s":"D","m":"FS-bt","r":5,"c":10,"v":4},
{"s":"D","m":"FS-bt","r":6,"c":1,"v":3},{"s":"D","m":"FS-bt","r":6,"c":2,"v":4},{"s":"D","m":"FS-bt","r":6,"c":3,"v":7},{"s":"D","m":"FS-bt","r":6,"c":4,"v":10.6},{"s":"D","m":"FS-bt","r":6,"c":5,"v":12},{"s":"D","m":"FS-bt","r":6,"c":6,"v":14.4},{"s":"D","m":"FS-bt","r":6,"c":7,"v":14},{"s":"D","m":"FS-bt","r":6,"c":8,"v":12},{"s":"D","m":"FS-bt","r":6,"c":9,"v":13},{"s":"D","m":"FS-bt","r":6,"c":10,"v":10},
{"s":"D","m":"FS-bt","r":7,"c":1,"v":1},{"s":"D","m":"FS-bt","r":7,"c":2,"v":2},{"s":"D","m":"FS-bt","r":7,"c":3,"v":4},{"s":"D","m":"FS-bt","r":7,"c":4,"v":9},{"s":"D","m":"FS-bt","r":7,"c":5,"v":10},{"s":"D","m":"FS-bt","r":7,"c":6,"v":13},{"s":"D","m":"FS-bt","r":7,"c":7,"v":14},{"s":"D","m":"FS-bt","r":7,"c":8,"v":14},{"s":"D","m":"FS-bt","r":7,"c":9,"v":15},{"s":"D","m":"FS-bt","r":7,"c":10,"v":16},
{"s":"D","m":"FS-bt","r":8,"c":1,"v":1},{"s":"D","m":"FS-bt","r":8,"c":2,"v":2},{"s":"D","m":"FS-bt","r":8,"c":3,"v":4},{"s":"D","m":"FS-bt","r":8,"c":4,"v":9},{"s":"D","m":"FS-bt","r":8,"c":5,"v":10},{"s":"D","m":"FS-bt","r":8,"c":6,"v":13},{"s":"D","m":"FS-bt","r":8,"c":7,"v":15},{"s":"D","m":"FS-bt","r":8,"c":8,"v":14},{"s":"D","m":"FS-bt","r":8,"c":9,"v":15},{"s":"D","m":"FS-bt","r":8,"c":10,"v":16}
],
"legend": [
{"k":1,"v":0,"t":"0"},{"k":2,"v":5.75,"t":""},{"k":3,"v":11.5,"t":"12"},{"k":4,"v":17.25,"t":""},{"k":5,"v":23,"t":"23"},{"k":6,"v":28.75,"t":""},{"k":7,"v":34.5,"t":"34"},{"k":8,"v":40.25,"t":""},{"k":9,"v":46,"t":"46"},{"k":10,"v":51.75,"t":""},{"k":11,"v":57.5,"t":"58"}
]
},
"vconcat": [
{"data": {"name": "cells"}, "spacing": 0, "hconcat": [
 {"spacing": 0, "vconcat": [
  {"transform": [{"filter": "datum.s == 'A' && datum.m == 'BART'"}], "width": 420, "height": 208,
   "title": {"text": "Scenario A", "subtitle": "confounding + no EM"},
   "layer": [
    {"encoding": {"x": {"field": "c", "type": "ordinal", "scale": {"domain": [1,2,3,4,5,6,7,8,9,10,11], "paddingInner": 0, "paddingOuter": 0}, "axis": null},
       "y": {"field": "r", "type": "ordinal", "scale": {"domain": [1,2,3,4,5,6,7,8], "paddingInner": 0, "paddingOuter": 0}, "title": "BART", "axis": {"labels": false, "titleFontSize": 25, "titleFontWeight": "normal", "titlePadding": 2}}},
     "layer": [
      {"mark": "rect", "encoding": {"color": {"field": "v", "type": "quantitative", "legend": null, "scale": {"type": "threshold", "domain": [7.2, 10.8, 14.2, 17.8, 21.5, 25.2, 29.5, 32.5, 35, 39, 43, 50], "range": ["#FF2600", "#FF4A00", "#FF6600", "#FF8C00", "#FFAA00", "#FFCC00", "#FFFF00", "#DDFF00", "#BBFF00", "#A0FF00", "#80FF00", "#55FF00", "#00FF00"]}}}},
      {"mark": {"type": "text", "fontSize": 11, "color": "#111"}, "encoding": {"text": {"field": "v", "type": "quantitative", "format": ".0f"}}}]}
   ]},
  {"transform": [{"filter": "datum.s == 'A' && datum.m == 'GBM'"}], "width": 420, "height": 208,
   "layer": [
    {"encoding": {"x": {"field": "c", "type": "ordinal", "scale": {"domain": [1,2,3,4,5,6,7,8,9,10,11], "paddingInner": 0, "paddingOuter": 0}, "axis": null},
       "y": {"field": "r", "type": "ordinal", "scale": {"domain": [1,2,3,4,5,6,7,8], "paddingInner": 0, "paddingOuter": 0}, "title": "GBM", "axis": {"labels": false, "titleFontSize": 25, "titleFontWeight": "normal", "titlePadding": 2}}},
     "layer": [
      {"mark": "rect", "encoding": {"color": {"field": "v", "type": "quantitative", "legend": null, "scale": {"type": "threshold", "domain": [7.2, 10.8, 14.2, 17.8, 21.5, 25.2, 29.5, 32.5, 35, 39, 43, 50], "range": ["#FF2600", "#FF4A00", "#FF6600", "#FF8C00", "#FFAA00", "#FFCC00", "#FFFF00", "#DDFF00", "#BBFF00", "#A0FF00", "#80FF00", "#55FF00", "#00FF00"]}}}},
      {"mark": {"type": "text", "fontSize": 11, "color": "#111"}, "encoding": {"text": {"field": "v", "type": "quantitative", "format": ".0f"}}}]},
    {"mark": {"type": "rule", "color": "black", "strokeWidth": 3}, "encoding": {"y": {"datum": 1, "type": "ordinal", "bandPosition": 0, "title": "GBM", "axis": {"labels": false, "titleFontSize": 25, "titleFontWeight": "normal", "titlePadding": 2}, "scale": {"domain": [1,2,3,4,5,6,7,8], "paddingInner": 0, "paddingOuter": 0}}}}
   ]},
  {"transform": [{"filter": "datum.s == 'A' && datum.m == 'FS-bt'"}], "width": 420, "height": 208,
   "title": {"text": "6", "orient": "left", "anchor": "middle", "offset": 35, "fontSize": 22, "fontWeight": "normal", "angle": 90, "frame": "group"},
   "layer": [
    {"encoding": {"x": {"field": "c", "type": "ordinal", "scale": {"domain": [1,2,3,4,5,6,7,8,9,10,11], "paddingInner": 0, "paddingOuter": 0}, "title": null, "axis": {"labelAngle": 0, "labelFontSize": 12, "labelPadding": 7}},
       "y": {"field": "r", "type": "ordinal", "scale": {"domain": [1,2,3,4,5,6,7,8], "paddingInner": 0, "paddingOuter": 0}, "title": "FS-bt", "axis": {"labels": false, "titleFontSize": 25, "titleFontWeight": "normal", "titlePadding": 2}}},
     "layer": [
      {"mark": "rect", "encoding": {"color": {"field": "v", "type": "quantitative", "legend": null, "scale": {"type": "threshold", "domain": [7.2, 10.8, 14.2, 17.8, 21.5, 25.2, 29.5, 32.5, 35, 39, 43, 50], "range": ["#FF2600", "#FF4A00", "#FF6600", "#FF8C00", "#FFAA00", "#FFCC00", "#FFFF00", "#DDFF00", "#BBFF00", "#A0FF00", "#80FF00", "#55FF00", "#00FF00"]}}}},
      {"mark": {"type": "text", "fontSize": 11, "color": "#111"}, "encoding": {"text": {"field": "v", "type": "quantitative", "format": ".0f"}}}]},
    {"mark": {"type": "rule", "color": "black", "strokeWidth": 3}, "encoding": {"y": {"datum": 1, "type": "ordinal", "bandPosition": 0, "title": "FS-bt", "axis": {"labels": false, "titleFontSize": 25, "titleFontWeight": "normal", "titlePadding": 2}, "scale": {"domain": [1,2,3,4,5,6,7,8], "paddingInner": 0, "paddingOuter": 0}}}}
   ]}
 ]},
 {"spacing": 0, "vconcat": [
  {"transform": [{"filter": "datum.s == 'B' && datum.m == 'BART'"}], "width": 420, "height": 208,
   "title": {"text": "Scenario B", "subtitle": "EM + no confounding"},
   "layer": [
    {"encoding": {"x": {"field": "c", "type": "ordinal", "scale": {"domain": [1,2,3,4,5,6,7,8,9,10,11], "paddingInner": 0, "paddingOuter": 0}, "axis": null},
       "y": {"field": "r", "type": "ordinal", "scale": {"domain": [1,2,3,4,5,6,7,8], "paddingInner": 0, "paddingOuter": 0}, "axis": null}},
     "layer": [
      {"mark": "rect", "encoding": {"color": {"field": "v", "type": "quantitative", "legend": null, "scale": {"type": "threshold", "domain": [7.2, 10.8, 14.2, 17.8, 21.5, 25.2, 29.5, 32.5, 35, 39, 43, 50], "range": ["#FF2600", "#FF4A00", "#FF6600", "#FF8C00", "#FFAA00", "#FFCC00", "#FFFF00", "#DDFF00", "#BBFF00", "#A0FF00", "#80FF00", "#55FF00", "#00FF00"]}}}},
      {"mark": {"type": "text", "fontSize": 11, "color": "#111"}, "encoding": {"text": {"field": "v", "type": "quantitative", "format": ".0f"}}}]},
    {"mark": {"type": "rule", "color": "black", "strokeWidth": 3}, "encoding": {"x": {"datum": 1, "type": "ordinal", "bandPosition": 0, "axis": null, "scale": {"domain": [1,2,3,4,5,6,7,8,9,10,11], "paddingInner": 0, "paddingOuter": 0}}}}
   ]},
  {"transform": [{"filter": "datum.s == 'B' && datum.m == 'GBM'"}], "width": 420, "height": 208,
   "layer": [
    {"encoding": {"x": {"field": "c", "type": "ordinal", "scale": {"domain": [1,2,3,4,5,6,7,8,9,10,11], "paddingInner": 0, "paddingOuter": 0}, "axis": null},
       "y": {"field": "r", "type": "ordinal", "scale": {"domain": [1,2,3,4,5,6,7,8], "paddingInner": 0, "paddingOuter": 0}, "axis": null}},
     "layer": [
      {"mark": "rect", "encoding": {"color": {"field": "v", "type": "quantitative", "legend": null, "scale": {"type": "threshold", "domain": [7.2, 10.8, 14.2, 17.8, 21.5, 25.2, 29.5, 32.5, 35, 39, 43, 50], "range": ["#FF2600", "#FF4A00", "#FF6600", "#FF8C00", "#FFAA00", "#FFCC00", "#FFFF00", "#DDFF00", "#BBFF00", "#A0FF00", "#80FF00", "#55FF00", "#00FF00"]}}}},
      {"mark": {"type": "text", "fontSize": 11, "color": "#111"}, "encoding": {"text": {"field": "v", "type": "quantitative", "format": ".0f"}}}]},
    {"mark": {"type": "rule", "color": "black", "strokeWidth": 3}, "encoding": {"x": {"datum": 1, "type": "ordinal", "bandPosition": 0, "axis": null, "scale": {"domain": [1,2,3,4,5,6,7,8,9,10,11], "paddingInner": 0, "paddingOuter": 0}}}},
    {"mark": {"type": "rule", "color": "black", "strokeWidth": 3}, "encoding": {"y": {"datum": 1, "type": "ordinal", "bandPosition": 0, "axis": null, "scale": {"domain": [1,2,3,4,5,6,7,8], "paddingInner": 0, "paddingOuter": 0}}}}
   ]},
  {"transform": [{"filter": "datum.s == 'B' && datum.m == 'FS-bt'"}], "width": 420, "height": 208,
   "layer": [
    {"encoding": {"x": {"field": "c", "type": "ordinal", "scale": {"domain": [1,2,3,4,5,6,7,8,9,10,11], "paddingInner": 0, "paddingOuter": 0}, "title": null, "axis": {"labelAngle": 0, "labelFontSize": 12, "labelPadding": 7}},
       "y": {"field": "r", "type": "ordinal", "scale": {"domain": [1,2,3,4,5,6,7,8], "paddingInner": 0, "paddingOuter": 0}, "axis": null}},
     "layer": [
      {"mark": "rect", "encoding": {"color": {"field": "v", "type": "quantitative", "legend": null, "scale": {"type": "threshold", "domain": [7.2, 10.8, 14.2, 17.8, 21.5, 25.2, 29.5, 32.5, 35, 39, 43, 50], "range": ["#FF2600", "#FF4A00", "#FF6600", "#FF8C00", "#FFAA00", "#FFCC00", "#FFFF00", "#DDFF00", "#BBFF00", "#A0FF00", "#80FF00", "#55FF00", "#00FF00"]}}}},
      {"mark": {"type": "text", "fontSize": 11, "color": "#111"}, "encoding": {"text": {"field": "v", "type": "quantitative", "format": ".0f"}}}]},
    {"mark": {"type": "rule", "color": "black", "strokeWidth": 3}, "encoding": {"x": {"datum": 1, "type": "ordinal", "bandPosition": 0, "title": null, "axis": {"labelAngle": 0, "labelFontSize": 12, "labelPadding": 7}, "scale": {"domain": [1,2,3,4,5,6,7,8,9,10,11], "paddingInner": 0, "paddingOuter": 0}}}},
    {"mark": {"type": "rule", "color": "black", "strokeWidth": 3}, "encoding": {"y": {"datum": 1, "type": "ordinal", "bandPosition": 0, "axis": null, "scale": {"domain": [1,2,3,4,5,6,7,8], "paddingInner": 0, "paddingOuter": 0}}}}
   ]}
 ]},
 {"spacing": 0, "vconcat": [
  {"transform": [{"filter": "datum.s == 'C' && datum.m == 'BART'"}], "width": 420, "height": 208,
   "title": {"text": "Scenario C", "subtitle": "EM + confounding"},
   "layer": [
    {"encoding": {"x": {"field": "c", "type": "ordinal", "scale": {"domain": [1,2,3,4,5,6,7,8,9,10,11], "paddingInner": 0, "paddingOuter": 0}, "axis": null},
       "y": {"field": "r", "type": "ordinal", "scale": {"domain": [1,2,3,4,5,6,7,8], "paddingInner": 0, "paddingOuter": 0}, "axis": null}},
     "layer": [
      {"mark": "rect", "encoding": {"color": {"field": "v", "type": "quantitative", "legend": null, "scale": {"type": "threshold", "domain": [7.2, 10.8, 14.2, 17.8, 21.5, 25.2, 29.5, 32.5, 35, 39, 43, 50], "range": ["#FF2600", "#FF4A00", "#FF6600", "#FF8C00", "#FFAA00", "#FFCC00", "#FFFF00", "#DDFF00", "#BBFF00", "#A0FF00", "#80FF00", "#55FF00", "#00FF00"]}}}},
      {"mark": {"type": "text", "fontSize": 11, "color": "#111"}, "encoding": {"text": {"field": "v", "type": "quantitative", "format": ".0f"}}}]},
    {"mark": {"type": "rule", "color": "black", "strokeWidth": 3}, "encoding": {"x": {"datum": 1, "type": "ordinal", "bandPosition": 0, "axis": null, "scale": {"domain": [1,2,3,4,5,6,7,8,9,10,11], "paddingInner": 0, "paddingOuter": 0}}}}
   ]},
  {"transform": [{"filter": "datum.s == 'C' && datum.m == 'GBM'"}], "width": 420, "height": 208,
   "layer": [
    {"encoding": {"x": {"field": "c", "type": "ordinal", "scale": {"domain": [1,2,3,4,5,6,7,8,9,10,11], "paddingInner": 0, "paddingOuter": 0}, "axis": null},
       "y": {"field": "r", "type": "ordinal", "scale": {"domain": [1,2,3,4,5,6,7,8], "paddingInner": 0, "paddingOuter": 0}, "axis": null}},
     "layer": [
      {"mark": "rect", "encoding": {"color": {"field": "v", "type": "quantitative", "legend": null, "scale": {"type": "threshold", "domain": [7.2, 10.8, 14.2, 17.8, 21.5, 25.2, 29.5, 32.5, 35, 39, 43, 50], "range": ["#FF2600", "#FF4A00", "#FF6600", "#FF8C00", "#FFAA00", "#FFCC00", "#FFFF00", "#DDFF00", "#BBFF00", "#A0FF00", "#80FF00", "#55FF00", "#00FF00"]}}}},
      {"mark": {"type": "text", "fontSize": 11, "color": "#111"}, "encoding": {"text": {"field": "v", "type": "quantitative", "format": ".0f"}}}]},
    {"mark": {"type": "rule", "color": "black", "strokeWidth": 3}, "encoding": {"x": {"datum": 1, "type": "ordinal", "bandPosition": 0, "axis": null, "scale": {"domain": [1,2,3,4,5,6,7,8,9,10,11], "paddingInner": 0, "paddingOuter": 0}}}},
    {"mark": {"type": "rule", "color": "black", "strokeWidth": 3}, "encoding": {"y": {"datum": 1, "type": "ordinal", "bandPosition": 0, "axis": null, "scale": {"domain": [1,2,3,4,5,6,7,8], "paddingInner": 0, "paddingOuter": 0}}}}
   ]},
  {"transform": [{"filter": "datum.s == 'C' && datum.m == 'FS-bt'"}], "width": 420, "height": 208,
   "layer": [
    {"encoding": {"x": {"field": "c", "type": "ordinal", "scale": {"domain": [1,2,3,4,5,6,7,8,9,10,11], "paddingInner": 0, "paddingOuter": 0}, "title": null, "axis": {"labelAngle": 0, "labelFontSize": 12, "labelPadding": 7}},
       "y": {"field": "r", "type": "ordinal", "scale": {"domain": [1,2,3,4,5,6,7,8], "paddingInner": 0, "paddingOuter": 0}, "axis": null}},
     "layer": [
      {"mark": "rect", "encoding": {"color": {"field": "v", "type": "quantitative", "legend": null, "scale": {"type": "threshold", "domain": [7.2, 10.8, 14.2, 17.8, 21.5, 25.2, 29.5, 32.5, 35, 39, 43, 50], "range": ["#FF2600", "#FF4A00", "#FF6600", "#FF8C00", "#FFAA00", "#FFCC00", "#FFFF00", "#DDFF00", "#BBFF00", "#A0FF00", "#80FF00", "#55FF00", "#00FF00"]}}}},
      {"mark": {"type": "text", "fontSize": 11, "color": "#111"}, "encoding": {"text": {"field": "v", "type": "quantitative", "format": ".0f"}}}]},
    {"mark": {"type": "rule", "color": "black", "strokeWidth": 3}, "encoding": {"x": {"datum": 1, "type": "ordinal", "bandPosition": 0, "title": null, "axis": {"labelAngle": 0, "labelFontSize": 12, "labelPadding": 7}, "scale": {"domain": [1,2,3,4,5,6,7,8,9,10,11], "paddingInner": 0, "paddingOuter": 0}}}},
    {"mark": {"type": "rule", "color": "black", "strokeWidth": 3}, "encoding": {"y": {"datum": 1, "type": "ordinal", "bandPosition": 0, "axis": null, "scale": {"domain": [1,2,3,4,5,6,7,8], "paddingInner": 0, "paddingOuter": 0}}}}
   ]}
 ]},
 {"spacing": 0, "vconcat": [
  {"transform": [{"filter": "datum.s == 'D' && datum.m == 'BART'"}], "width": 420, "height": 208,
   "title": {"text": "Scenario D", "subtitle": "EM + confounding by EMs"},
   "layer": [
    {"encoding": {"x": {"field": "c", "type": "ordinal", "scale": {"domain": [1,2,3,4,5,6,7,8,9,10,11], "paddingInner": 0, "paddingOuter": 0}, "axis": null},
       "y": {"field": "r", "type": "ordinal", "scale": {"domain": [1,2,3,4,5,6,7,8], "paddingInner": 0, "paddingOuter": 0}, "title": null,
         "axis": {"orient": "right", "labelFontSize": 13.5, "labelFontWeight": "bold", "labelPadding": 5, "labelExpr": "['', '1:(0,0,1)', '2:(1,0,1)', '5:(0,1,1)', '5:(0,0,0)', '6:(1,1,1)', '6:(1,0,0)', '9:(0,1,0)', '10:(1,1,0)'][datum.value]"}}},
     "layer": [
      {"mark": "rect", "encoding": {"color": {"field": "v", "type": "quantitative", "legend": null, "scale": {"type": "threshold", "domain": [7.2, 10.8, 14.2, 17.8, 21.5, 25.2, 29.5, 32.5, 35, 39, 43, 50], "range": ["#FF2600", "#FF4A00", "#FF6600", "#FF8C00", "#FFAA00", "#FFCC00", "#FFFF00", "#DDFF00", "#BBFF00", "#A0FF00", "#80FF00", "#55FF00", "#00FF00"]}}}},
      {"mark": {"type": "text", "fontSize": 11, "color": "#111"}, "encoding": {"text": {"field": "v", "type": "quantitative", "format": ".0f"}}}]},
    {"mark": {"type": "rule", "color": "black", "strokeWidth": 3}, "encoding": {"x": {"datum": 1, "type": "ordinal", "bandPosition": 0, "axis": null, "scale": {"domain": [1,2,3,4,5,6,7,8,9,10,11], "paddingInner": 0, "paddingOuter": 0}}}}
   ]},
  {"transform": [{"filter": "datum.s == 'D' && datum.m == 'GBM'"}], "width": 420, "height": 208,
   "layer": [
    {"encoding": {"x": {"field": "c", "type": "ordinal", "scale": {"domain": [1,2,3,4,5,6,7,8,9,10,11], "paddingInner": 0, "paddingOuter": 0}, "axis": null},
       "y": {"field": "r", "type": "ordinal", "scale": {"domain": [1,2,3,4,5,6,7,8], "paddingInner": 0, "paddingOuter": 0}, "title": null,
         "axis": {"orient": "right", "labelFontSize": 13.5, "labelFontWeight": "bold", "labelPadding": 5, "labelExpr": "['', '1:(0,0,1)', '2:(1,0,1)', '5:(0,1,1)', '5:(0,0,0)', '6:(1,1,1)', '6:(1,0,0)', '9:(0,1,0)', '10:(1,1,0)'][datum.value]"}}},
     "layer": [
      {"mark": "rect", "encoding": {"color": {"field": "v", "type": "quantitative", "legend": null, "scale": {"type": "threshold", "domain": [7.2, 10.8, 14.2, 17.8, 21.5, 25.2, 29.5, 32.5, 35, 39, 43, 50], "range": ["#FF2600", "#FF4A00", "#FF6600", "#FF8C00", "#FFAA00", "#FFCC00", "#FFFF00", "#DDFF00", "#BBFF00", "#A0FF00", "#80FF00", "#55FF00", "#00FF00"]}}}},
      {"mark": {"type": "text", "fontSize": 11, "color": "#111"}, "encoding": {"text": {"field": "v", "type": "quantitative", "format": ".0f"}}}]},
    {"mark": {"type": "rule", "color": "black", "strokeWidth": 3}, "encoding": {"x": {"datum": 1, "type": "ordinal", "bandPosition": 0, "axis": null, "scale": {"domain": [1,2,3,4,5,6,7,8,9,10,11], "paddingInner": 0, "paddingOuter": 0}}}},
    {"mark": {"type": "rule", "color": "black", "strokeWidth": 3}, "encoding": {"y": {"datum": 1, "type": "ordinal", "bandPosition": 0, "title": null, "axis": {"orient": "right", "labelFontSize": 13.5, "labelFontWeight": "bold", "labelPadding": 5, "labelExpr": "['', '1:(0,0,1)', '2:(1,0,1)', '5:(0,1,1)', '5:(0,0,0)', '6:(1,1,1)', '6:(1,0,0)', '9:(0,1,0)', '10:(1,1,0)'][datum.value]"}, "scale": {"domain": [1,2,3,4,5,6,7,8], "paddingInner": 0, "paddingOuter": 0}}}}
   ]},
  {"transform": [{"filter": "datum.s == 'D' && datum.m == 'FS-bt'"}], "width": 420, "height": 208,
   "layer": [
    {"encoding": {"x": {"field": "c", "type": "ordinal", "scale": {"domain": [1,2,3,4,5,6,7,8,9,10,11], "paddingInner": 0, "paddingOuter": 0}, "title": null, "axis": {"labelAngle": 0, "labelFontSize": 12, "labelPadding": 7}},
       "y": {"field": "r", "type": "ordinal", "scale": {"domain": [1,2,3,4,5,6,7,8], "paddingInner": 0, "paddingOuter": 0}, "title": null,
         "axis": {"orient": "right", "labelFontSize": 13.5, "labelFontWeight": "bold", "labelPadding": 5, "labelExpr": "['', '1:(0,0,1)', '2:(1,0,1)', '5:(0,1,1)', '5:(0,0,0)', '6:(1,1,1)', '6:(1,0,0)', '9:(0,1,0)', '10:(1,1,0)'][datum.value]"}}},
     "layer": [
      {"mark": "rect", "encoding": {"color": {"field": "v", "type": "quantitative", "legend": null, "scale": {"type": "threshold", "domain": [7.2, 10.8, 14.2, 17.8, 21.5, 25.2, 29.5, 32.5, 35, 39, 43, 50], "range": ["#FF2600", "#FF4A00", "#FF6600", "#FF8C00", "#FFAA00", "#FFCC00", "#FFFF00", "#DDFF00", "#BBFF00", "#A0FF00", "#80FF00", "#55FF00", "#00FF00"]}}}},
      {"mark": {"type": "text", "fontSize": 11, "color": "#111"}, "encoding": {"text": {"field": "v", "type": "quantitative", "format": ".0f"}}}]},
    {"mark": {"type": "rule", "color": "black", "strokeWidth": 3}, "encoding": {"x": {"datum": 1, "type": "ordinal", "bandPosition": 0, "title": null, "axis": {"labelAngle": 0, "labelFontSize": 12, "labelPadding": 7}, "scale": {"domain": [1,2,3,4,5,6,7,8,9,10,11], "paddingInner": 0, "paddingOuter": 0}}}},
    {"mark": {"type": "rule", "color": "black", "strokeWidth": 3}, "encoding": {"y": {"datum": 1, "type": "ordinal", "bandPosition": 0, "title": null, "axis": {"orient": "right", "labelFontSize": 13.5, "labelFontWeight": "bold", "labelPadding": 5, "labelExpr": "['', '1:(0,0,1)', '2:(1,0,1)', '5:(0,1,1)', '5:(0,0,0)', '6:(1,1,1)', '6:(1,0,0)', '9:(0,1,0)', '10:(1,1,0)'][datum.value]"}, "scale": {"domain": [1,2,3,4,5,6,7,8], "paddingInner": 0, "paddingOuter": 0}}}}
   ]}
 ]}
]},
{"data": {"name": "legend"}, "width": 506, "height": 24, "view": {"stroke": null},
 "title": {"text": " ", "orient": "right", "offset": 60, "fontSize": 10},
 "encoding": {"x": {"field": "k", "type": "ordinal", "axis": null, "scale": {"paddingInner": 0, "paddingOuter": 0}}},
 "layer": [
  {"mark": {"type": "rect", "opacity": 0.6}, "encoding": {"color": {"field": "v", "type": "quantitative", "legend": null,
     "scale": {"type": "threshold", "domain": [7.2, 10.8, 14.2, 17.8, 21.5, 25.2, 29.5, 32.5, 35, 39, 43, 50], "range": ["#FF2600", "#FF4A00", "#FF6600", "#FF8C00", "#FFAA00", "#FFCC00", "#FFFF00", "#DDFF00", "#BBFF00", "#A0FF00", "#80FF00", "#55FF00", "#00FF00"]}}}},
  {"mark": {"type": "text", "fontSize": 12, "fontWeight": "bold", "color": "black"}, "encoding": {"text": {"field": "t"}}}
 ]}
],
"spacing": 8,
"center": true
}
